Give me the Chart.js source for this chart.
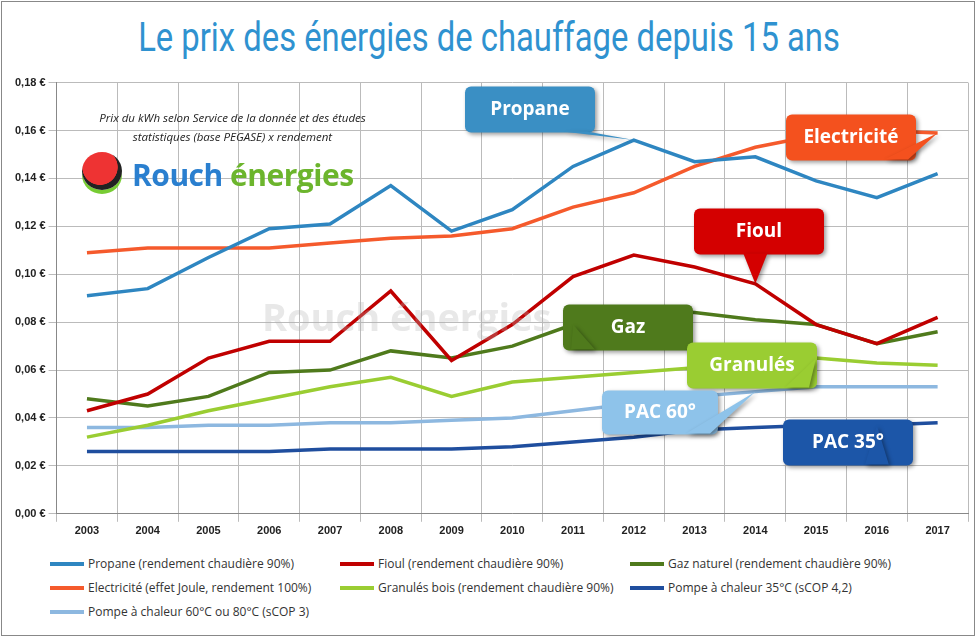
<!DOCTYPE html>
<html><head><meta charset="utf-8">
<script src="https://cdn.jsdelivr.net/npm/chart.js@4"></script>
<style>
body{margin:0;width:978px;height:639px;background:#fff;font-family:"Open Sans",sans-serif;overflow:hidden}
#frame{position:absolute;left:1px;top:1px;width:974px;height:635px;border:1px solid #888;box-sizing:border-box}
#title{position:absolute;top:14px;left:0;width:978px;text-align:center;font-family:"Liberation Sans Narrow","Roboto",sans-serif;font-size:40px;color:#2f92d0;transform:scaleX(0.82)}
#wrap{position:absolute;left:10px;top:73px;width:960px;height:468px}
#legend{position:absolute;left:50px;top:555px;width:900px;display:grid;grid-template-columns:290px 290px 320px;row-gap:7px;font-size:12px;color:#333;font-family:"Open Sans",sans-serif}
#legend div{display:flex;align-items:center;white-space:nowrap}
#legend span.sw{display:inline-block;width:34px;height:4px;margin-right:4px}
#note{position:absolute;left:80px;top:108px;width:305px;text-align:center;font-style:italic;font-size:11.5px;color:#222;line-height:19px}
#logo{position:absolute;left:132px;top:154px;font-size:30px;font-weight:bold;font-family:"Open Sans",sans-serif;letter-spacing:-0.5px}
#bug{position:absolute;left:82px;top:152px;width:40px;height:38px;border-radius:50%;background:radial-gradient(circle at 45% 40%,#e33 55%,#222 57%);box-shadow:0 4px 0 #7c3}
#wm{position:absolute;left:262px;top:290px;font-size:38px;font-weight:bold;color:rgba(180,180,180,0.3)}
</style></head><body>
<div id="frame"></div>
<div id="title">Le prix des énergies de chauffage depuis 15 ans</div>
<div id="wrap"><canvas id="c"></canvas></div>
<div id="note">Prix du kWh selon Service de la donnée et des études statistiques (base PEGASE) x rendement</div>
<div id="bug"></div>
<div id="logo"><span style="color:#2a7fcf">Rouch</span> <span style="color:#6cb52d">énergies</span></div>
<div id="wm">Rouch énergies</div>
<div id="legend"></div>
<script>
const years=["2003","2004","2005","2006","2007","2008","2009","2010","2011","2012","2013","2014","2015","2016","2017"];
const propane=[0.091,0.094,0.107,0.119,0.121,0.137,0.118,0.127,0.145,0.156,0.147,0.149,0.139,0.132,0.142];
const fioul=[0.043,0.050,0.065,0.072,0.072,0.093,0.064,0.079,0.099,0.108,0.103,0.096,0.079,0.071,0.082];
const gaz=[0.048,0.045,0.049,0.059,0.060,0.068,0.065,0.070,0.079,0.085,0.084,0.081,0.079,0.071,0.076];
const elec=[0.109,0.111,0.111,0.111,0.113,0.115,0.116,0.119,0.128,0.134,0.145,0.153,0.158,0.160,0.159];
const granules=[0.032,0.037,0.043,0.048,0.053,0.057,0.049,0.055,0.057,0.059,0.061,0.064,0.065,0.063,0.062];
const pac35=[0.026,0.026,0.026,0.026,0.027,0.027,0.027,0.028,0.030,0.032,0.035,0.036,0.037,0.037,0.038];
const pac60=[0.036,0.036,0.037,0.037,0.038,0.038,0.039,0.040,0.043,0.046,0.049,0.051,0.053,0.053,0.053];
const names=["Propane (rendement chaudière 90%)","Fioul  (rendement chaudière 90%)","Gaz naturel (rendement chaudière 90%)","Electricité (effet Joule, rendement 100%)","Granulés bois (rendement chaudière 90%)","Pompe à chaleur 35°C (sCOP 4,2)","Pompe à chaleur 60°C ou 80°C (sCOP 3)"];
const series=[propane,fioul,gaz,elec,granules,pac35,pac60];
const colors=["#2e86c1","#c00000","#4f7a1c","#f55a2c","#9acd32","#1f4e9e","#8db8e0"];
const labels=["Propane","Fioul","Gaz","Electricité","Granulés","PAC 35°","PAC 60°"];
const callouts=[
 [0,520,4,130,46,"#3a8fc4",9],
 [1,749,126,130,46,"#d40000",11],
 [2,618,222,130,46,"#4f7a1c",8],
 [3,841,32,130,46,"#f4511e",14],
 [4,742,260,130,46,"#9acd32",12],
 [6,650,308,116,44,"#8ec3ea",11],
 [5,838,337,130,46,"#1c56a8",13]
];
const lg=document.getElementById('legend');
series.forEach((s,i)=>{const d=document.createElement('div');d.innerHTML=`<span class="sw" style="background:${colors[i]}"></span>${names[i]}`;lg.appendChild(d);});
const calloutPlugin={id:'co',afterDatasetsDraw(ch){
 const c=ch.ctx,xs=ch.scales.x,ys=ch.scales.y;
 callouts.forEach(([si,cx,cy,w,h,fill,pi])=>{
  const bx=cx-w/2, by=cy+ch.chartArea.top;
  const px=xs.getPixelForValue(pi), py=ys.getPixelForValue(series[si][pi]);
  c.save();c.shadowColor="rgba(0,0,0,0.4)";c.shadowBlur=4;c.shadowOffsetX=2;c.shadowOffsetY=2;
  c.fillStyle=fill;c.beginPath();c.roundRect(bx,by,w,h,6);c.fill();
  c.beginPath();const mx=Math.min(Math.max(px,bx+20),bx+w-20);
  const baseY=py>by?by+h-1:by+1;
  c.moveTo(mx-12,baseY);c.lineTo(px,py);c.lineTo(mx+12,baseY);c.fill();
  c.shadowColor="transparent";c.fillStyle="#fff";c.font="bold 19px 'Open Sans'";c.textAlign="center";c.textBaseline="middle";
  c.fillText(labels[si],bx+w/2,by+h/2);c.restore();
 });
}};
new Chart(document.getElementById('c'),{type:'line',
 data:{labels:years,datasets:series.map((s,i)=>({label:names[i],data:s,borderColor:colors[i],backgroundColor:colors[i],borderWidth:3.5,pointRadius:0,tension:0}))},
 options:{responsive:true,maintainAspectRatio:false,animation:false,
  layout:{padding:{left:2,right:2,top:8}},
  plugins:{legend:{display:false},tooltip:{enabled:false}},
  scales:{x:{offset:true,grid:{color:"#bbb",offset:true},border:{color:"#888"},ticks:{color:"#222",font:{weight:"bold",size:11}}},
   y:{min:0,max:0.18,grid:{color:"#bbb"},border:{color:"#888"},ticks:{stepSize:0.02,color:"#222",font:{weight:"bold",size:11},callback:v=>v.toFixed(2).replace('.',',')+' €'}}}},
 plugins:[calloutPlugin]});
</script></body></html>
